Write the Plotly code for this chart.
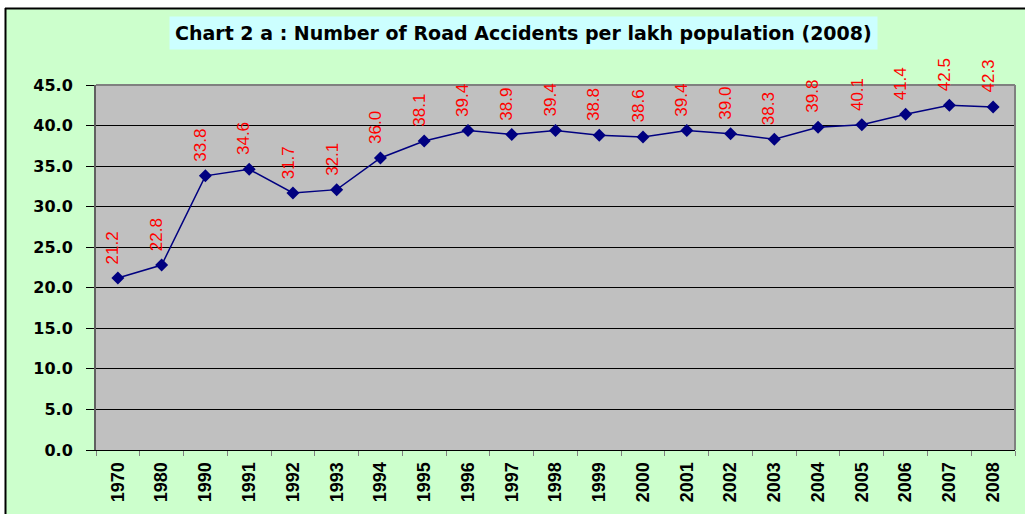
import plotly.graph_objects as go

years = ["1970", "1980", "1990", "1991", "1992", "1993", "1994", "1995", "1996", "1997",
         "1998", "1999", "2000", "2001", "2002", "2003", "2004", "2005", "2006", "2007", "2008"]
accidents = [21.2, 22.8, 33.8, 34.6, 31.7, 32.1, 36.0, 38.1, 39.4, 38.9,
             39.4, 38.8, 38.6, 39.4, 39.0, 38.3, 39.8, 40.1, 41.4, 42.5, 42.3]
value_labels = ["21.2", "22.8", "33.8", "34.6", "31.7", "32.1", "36.0", "38.1", "39.4", "38.9",
                "39.4", "38.8", "38.6", "39.4", "39.0", "38.3", "39.8", "40.1", "41.4", "42.5", "42.3"]
title_text = "Chart 2 a : Number of Road Accidents per lakh population (2008)"

W, H = 1025, 514
L, R, T, B = 96, 10, 85, 64
pw, ph = W - L - R, H - T - B

def px(x):
    return (x - L) / pw

def py(y):
    return (H - B - y) / ph

fig = go.Figure()
fig.add_trace(go.Scatter(
    x=years, y=accidents, mode="lines+markers",
    line=dict(color="#000080", width=1.5),
    marker=dict(symbol="diamond", size=10, color="#000080"),
    hoverinfo="x+y", showlegend=False,
))

annotations = []
for i, (v, lab) in enumerate(zip(accidents, value_labels)):
    annotations.append(dict(
        x=i, y=v, xref="x", yref="y", text=lab, showarrow=False,
        textangle=-90, yanchor="bottom", xanchor="center", yshift=12, xshift=-5,
        font=dict(family="Liberation Sans, Arial", size=17, color="#FF0000"),
    ))

annotations.append(dict(
    x=px(523), y=py(33), xref="paper", yref="paper", text="<b>" + title_text + "</b>",
    showarrow=False, xanchor="center", yanchor="middle",
    font=dict(family="DejaVu Sans", size=19, color="#000000"),
    bgcolor="#CCFFFF", borderpad=5,
))

shapes = [
    dict(type="rect", xref="paper", yref="paper", x0=px(-5), x1=px(1030), y0=py(8), y1=py(-5),
         fillcolor="white", line=dict(width=0), layer="above"),
    dict(type="rect", xref="paper", yref="paper", x0=px(-5), x1=px(5), y0=py(520), y1=py(-5),
         fillcolor="white", line=dict(width=0), layer="above"),
    dict(type="line", xref="paper", yref="paper", x0=px(5), x1=px(1030), y0=py(8.5), y1=py(8.5),
         line=dict(color="black", width=2), layer="above"),
    dict(type="line", xref="paper", yref="paper", x0=px(5.5), x1=px(5.5), y0=py(8), y1=py(520),
         line=dict(color="black", width=2), layer="above"),
    dict(type="line", xref="paper", yref="paper", x0=0, x1=1, y0=1, y1=1,
         line=dict(color="#808080", width=2), layer="above"),
    dict(type="line", xref="paper", yref="paper", x0=1, x1=1, y0=0, y1=1,
         line=dict(color="#808080", width=2), layer="above"),
]

fig.update_layout(
    width=W, height=H,
    margin=dict(l=L, r=R, t=T, b=B, pad=0),
    paper_bgcolor="#CCFFCC",
    plot_bgcolor="#C0C0C0",
    annotations=annotations,
    shapes=shapes,
    xaxis=dict(
        type="category", tickangle=-90, tickson="boundaries",
        ticks="outside", ticklen=5, tickcolor="#808080",
        showgrid=False, showline=True, linecolor="black", linewidth=1,
        ticklabelstandoff=4,
        tickfont=dict(family="Liberation Sans, Arial", size=18, color="black", weight="bold"),
        range=[-0.5, len(years) - 0.5],
    ),
    yaxis=dict(
        range=[0, 45], dtick=5, tickformat=".1f",
        ticks="outside", ticklen=8, tickcolor="black",
        showgrid=True, gridcolor="black", gridwidth=1,
        showline=True, linecolor="#606060", linewidth=2,
        zeroline=False, ticklabelstandoff=10,
        tickfont=dict(family="DejaVu Sans", size=16, color="black", weight="bold"),
    ),
)

fig.write_html("out.html", config={"displayModeBar": False},
               post_script="document.body.style.margin='0px';")
